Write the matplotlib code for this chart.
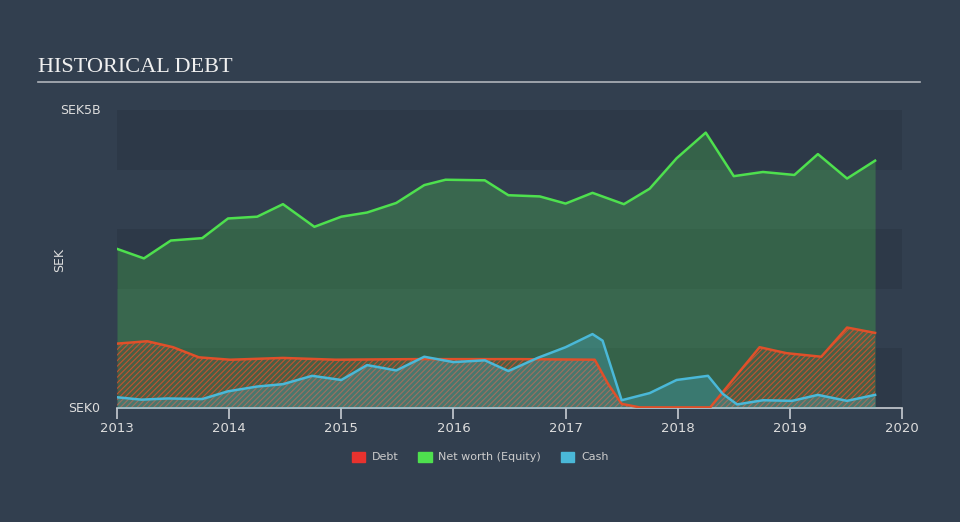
import matplotlib
matplotlib.use("Agg")
import matplotlib.pyplot as plt
from matplotlib.patches import Patch
import numpy as np

# ---- data (values in SEK billions) ----
equity_x = [2013.0, 2013.24, 2013.48, 2013.76, 2013.99, 2014.25, 2014.48, 2014.76, 2015.0, 2015.23,
            2015.49, 2015.74, 2015.93, 2016.28, 2016.49, 2016.77, 2017.0, 2017.24, 2017.52, 2017.75,
            2017.99, 2018.25, 2018.5, 2018.76, 2019.04, 2019.25, 2019.51, 2019.76]
equity_y = [2.67, 2.51, 2.81, 2.85, 3.18, 3.21, 3.42, 3.04, 3.21, 3.28,
            3.44, 3.74, 3.83, 3.82, 3.57, 3.55, 3.43, 3.61, 3.42, 3.68,
            4.19, 4.62, 3.89, 3.96, 3.91, 4.26, 3.85, 4.15]

debt_x = [2013.0, 2013.27, 2013.5, 2013.73, 2014.01, 2014.48, 2014.95, 2015.65, 2016.59, 2017.26,
          2017.38, 2017.5, 2017.66, 2018.29, 2018.46, 2018.73, 2018.97, 2019.28, 2019.51, 2019.76]
debt_y = [1.08, 1.12, 1.02, 0.85, 0.81, 0.84, 0.81, 0.82, 0.82, 0.81,
          0.40, 0.07, 0.01, 0.01, 0.40, 1.02, 0.92, 0.86, 1.35, 1.26]

cash_x = [2013.0, 2013.22, 2013.45, 2013.76, 2013.99, 2014.25, 2014.48, 2014.74, 2015.0, 2015.23,
          2015.49, 2015.74, 2016.0, 2016.28, 2016.49, 2016.75, 2017.0, 2017.24, 2017.33, 2017.5,
          2017.75, 2017.99, 2018.27, 2018.4, 2018.53, 2018.76, 2019.02, 2019.25, 2019.51, 2019.76]
cash_y = [0.18, 0.14, 0.16, 0.15, 0.28, 0.36, 0.40, 0.54, 0.47, 0.72,
          0.63, 0.86, 0.77, 0.80, 0.62, 0.84, 1.02, 1.24, 1.13, 0.13,
          0.25, 0.47, 0.54, 0.24, 0.06, 0.13, 0.12, 0.22, 0.12, 0.22]

year_ticks = [2013, 2014, 2015, 2016, 2017, 2018, 2019, 2020]
y_ticks = [0, 5]
y_tick_labels = ["SEK0", "SEK5B"]

BG = "#323f4f"
BAND = "#2d3948"
TXT = "#dddddd"
C_EQ = "#4ee04e"
C_DEBT = "#e0502a"
C_CASH = "#4ab8d8"

plt.rcParams["hatch.linewidth"] = 0.8

fig = plt.figure(figsize=(9.6, 5.22), dpi=100, facecolor=BG)
ax = fig.add_axes([117 / 960, 114 / 522, 785 / 960, 298 / 522])
ax.set_facecolor(BG)
ax.set_xlim(2013, 2020)
ax.set_ylim(0, 5)

# background bands
for lo in [0, 2, 4]:
    ax.axhspan(lo, lo + 1, color=BAND, zorder=0, lw=0)

# equity
ax.fill_between(equity_x, 0, equity_y, color=C_EQ, alpha=0.25, lw=0, zorder=1)
ax.plot(equity_x, equity_y, color=C_EQ, lw=1.8, zorder=5, solid_joinstyle="round")

# debt (hatched)
ax.fill_between(debt_x, 0, debt_y, color=C_DEBT, alpha=0.12, lw=0, zorder=2)
ax.fill_between(debt_x, 0, debt_y, facecolor="none", edgecolor=C_DEBT, hatch="//////",
                lw=0, alpha=0.8, zorder=2)
# cash
ax.fill_between(cash_x, 0, cash_y, color=C_CASH, alpha=0.28, lw=0, zorder=3)
ax.plot(debt_x, debt_y, color=C_DEBT, lw=1.8, zorder=6, solid_joinstyle="round")
ax.plot(cash_x, cash_y, color=C_CASH, lw=1.8, zorder=7, solid_joinstyle="round")

# axes styling
for s in ["top", "right", "left"]:
    ax.spines[s].set_visible(False)
ax.spines["bottom"].set_color("#c8ccd2")
ax.spines["bottom"].set_linewidth(1.2)
ax.set_xticks(year_ticks)
ax.set_xticklabels([str(y) for y in year_ticks])
ax.tick_params(axis="x", colors="#c8ccd2", length=8, width=1.2, labelcolor=TXT,
               labelsize=9.5, pad=2)
ax.set_yticks(y_ticks)
ax.set_yticklabels(y_tick_labels)
ax.tick_params(axis="y", length=0, labelcolor=TXT, labelsize=9, pad=12)
for lbl in ax.get_yticklabels():
    lbl.set_verticalalignment("center")
ax.set_ylabel("SEK", color=TXT, fontsize=9)
ax.yaxis.set_label_coords(-0.065, 0.497)

# title
fig.text(38 / 960, 1 - 67 / 522, "HISTORICAL DEBT", fontfamily="Liberation Serif",
         fontsize=16, color="#f0f0f0", va="center", ha="left")
fig.add_artist(plt.Line2D([38 / 960, 920 / 960], [1 - 82 / 522, 1 - 82 / 522],
                          color="#b0b4ba", lw=1.2))

# legend
handles = [Patch(color="#e8322e", label="Debt"),
           Patch(color=C_EQ, label="Net worth (Equity)"),
           Patch(color=C_CASH, label="Cash")]
leg = fig.legend(handles=handles, loc="center", bbox_to_anchor=(0.5, 1 - 457 / 522),
                 ncol=3, frameon=False, fontsize=8, handlelength=1.2, handleheight=1.0,
                 columnspacing=1.8, handletextpad=0.6)
for t in leg.get_texts():
    t.set_color("#cccccc")

fig.savefig("out.png", dpi=100, facecolor=BG)
